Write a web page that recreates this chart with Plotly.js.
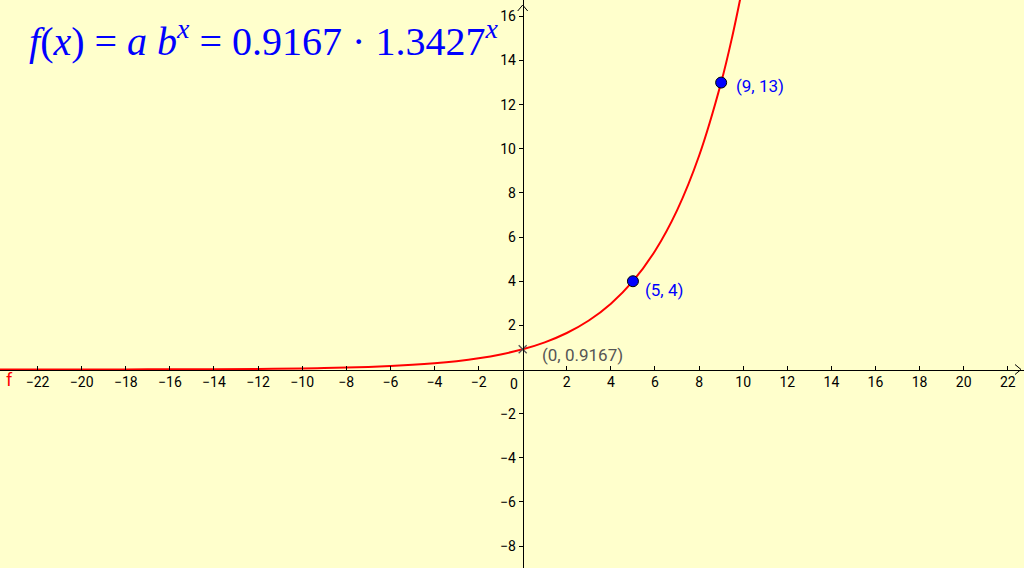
<!DOCTYPE html>
<html>
<head>
<meta charset="utf-8">
<script src="https://cdn.plot.ly/plotly-3.0.1.min.js"></script>
<style>html,body{margin:0;padding:0;background:#ffffcc;}#chart{width:1024px;height:568px;}</style>
</head>
<body>
<div id="chart"></div>
<script>
// Curve f(x) = 0.9167 * 1.3427^x, values read at sample x positions
const curveX = [-24, -20, -18, -16, -14, -12, -10, -9, -8, -7, -6, -5, -4, -3, -2, -1, 0, 1, 2, 3, 4, 5, 6, 7, 8, 9, 9.5, 10];
const curveY = [0.0008, 0.0025, 0.0046, 0.0082, 0.0148, 0.0267, 0.0481, 0.0646, 0.0868, 0.1165, 0.1564, 0.2100, 0.2820, 0.3787, 0.5085, 0.6827, 0.9167, 1.2309, 1.6527, 2.2190, 2.9795, 4.0006, 5.3715, 7.2123, 9.6841, 13.0029, 15.067, 17.459];
// Given points
const pointX = [5, 9];
const pointY = [4, 13];
const pointLabels = ["(5, 4)", "(9, 13)"];
// y-intercept
const interceptX = [0];
const interceptY = [0.9167];
const interceptLabels = ["(0, 0.9167)"];
// Axis ticks
const xTicks = [-22, -20, -18, -16, -14, -12, -10, -8, -6, -4, -2, 2, 4, 6, 8, 10, 12, 14, 16, 18, 20, 22];
const yTicks = [-8, -6, -4, -2, 2, 4, 6, 8, 10, 12, 14, 16];
const xRange = [-23.705, 22.735];
const yRange = [-8.994, 16.742];

const xAxisPos = (0 - yRange[0]) / (yRange[1] - yRange[0]);
const yAxisPos = (0 - xRange[0]) / (xRange[1] - xRange[0]);

const tickFont = {family: 'Roboto, sans-serif', size: 14, color: '#000'};
const labelFontBlue = {family: 'Roboto, sans-serif', size: 17, color: '#0000ff'};
const labelFontGray = {family: 'Roboto, sans-serif', size: 17, color: '#555555'};

const traces = [
  {x: curveX, y: curveY, mode: 'lines', line: {color: '#ff0000', width: 2, shape: 'spline', smoothing: 1}, hoverinfo: 'skip'},
  {x: interceptX, y: interceptY, mode: 'markers',
   marker: {symbol: 'x-thin', size: 8, line: {color: '#555555', width: 1.3}, color: '#555555'}, cliponaxis: false},
  {x: pointX, y: pointY, mode: 'markers',
   marker: {symbol: 'circle', size: 11, color: '#0000ff', line: {color: '#000000', width: 1}}, cliponaxis: false}
];

const labelShifts = [[10, -9], [13, -3]];
const pointAnnotations = pointX.map((px, i) => ({
  text: pointLabels[i], xref: 'x', yref: 'y', x: px, y: pointY[i], xanchor: 'left', yanchor: 'middle',
  xshift: labelShifts[i][0], yshift: labelShifts[i][1], showarrow: false, font: labelFontBlue
}));
const interceptAnnotations = interceptX.map((px, i) => ({
  text: interceptLabels[i], xref: 'x', yref: 'y', x: px, y: interceptY[i], xanchor: 'left', yanchor: 'middle',
  xshift: 17, yshift: -6, showarrow: false, font: labelFontGray
}));

const layout = {
  width: 1024, height: 568,
  margin: {l: 0, r: 0, t: 0, b: 0, pad: 0},
  paper_bgcolor: '#ffffcc', plot_bgcolor: '#ffffcc',
  showlegend: false,
  xaxis: {range: xRange, anchor: 'free', position: xAxisPos, showgrid: false, zeroline: false,
    showline: true, linecolor: '#000', linewidth: 1, tickmode: 'array', tickvals: xTicks,
    ticks: 'inside', ticklen: 4, tickcolor: '#000', tickwidth: 1, tickfont: tickFont, fixedrange: true},
  yaxis: {range: yRange, anchor: 'free', position: yAxisPos, showgrid: false, zeroline: false,
    showline: true, linecolor: '#000', linewidth: 1, tickmode: 'array', tickvals: yTicks,
    ticks: 'outside', ticklen: 4, tickcolor: '#000', tickwidth: 1, tickfont: tickFont, fixedrange: true},
  shapes: [
    {type: 'path', xref: 'x', yref: 'y', xsizemode: 'pixel', ysizemode: 'pixel', xanchor: xRange[1], yanchor: 0,
     path: 'M -9 -5 L -3 0 L -9 5', line: {color: '#000', width: 1}},
    {type: 'path', xref: 'x', yref: 'y', xsizemode: 'pixel', ysizemode: 'pixel', xanchor: 0, yanchor: yRange[1],
     path: 'M -5 -11 L 0 -5 L 5 -11', line: {color: '#000', width: 1}}
  ],
  annotations: [
    {text: '<i>f</i>(<i>x</i>) = <i>a</i> <i>b</i><sup><i>x</i></sup> = 0.9167 · 1.3427<sup><i>x</i></sup>',
     xref: 'paper', yref: 'paper', x: 27/1024, y: 1 - 11/568, xanchor: 'left', yanchor: 'top', showarrow: false,
     font: {family: '"Liberation Serif", serif', size: 40, color: '#0000ff'}},
    {text: '0', xref: 'x', yref: 'y', x: 0, y: 0, xanchor: 'right', yanchor: 'top', xshift: -3, yshift: -4, showarrow: false,
     font: tickFont},
    {text: 'f', xref: 'paper', yref: 'paper', x: 4/1024, y: 1 - 367/568, xanchor: 'left', yanchor: 'top', showarrow: false,
     font: {family: 'Roboto, sans-serif', size: 18, color: '#ff0000'}}
  ].concat(pointAnnotations, interceptAnnotations)
};

Plotly.newPlot('chart', traces, layout, {staticPlot: true, displayModeBar: false});
</script>
</body>
</html>
